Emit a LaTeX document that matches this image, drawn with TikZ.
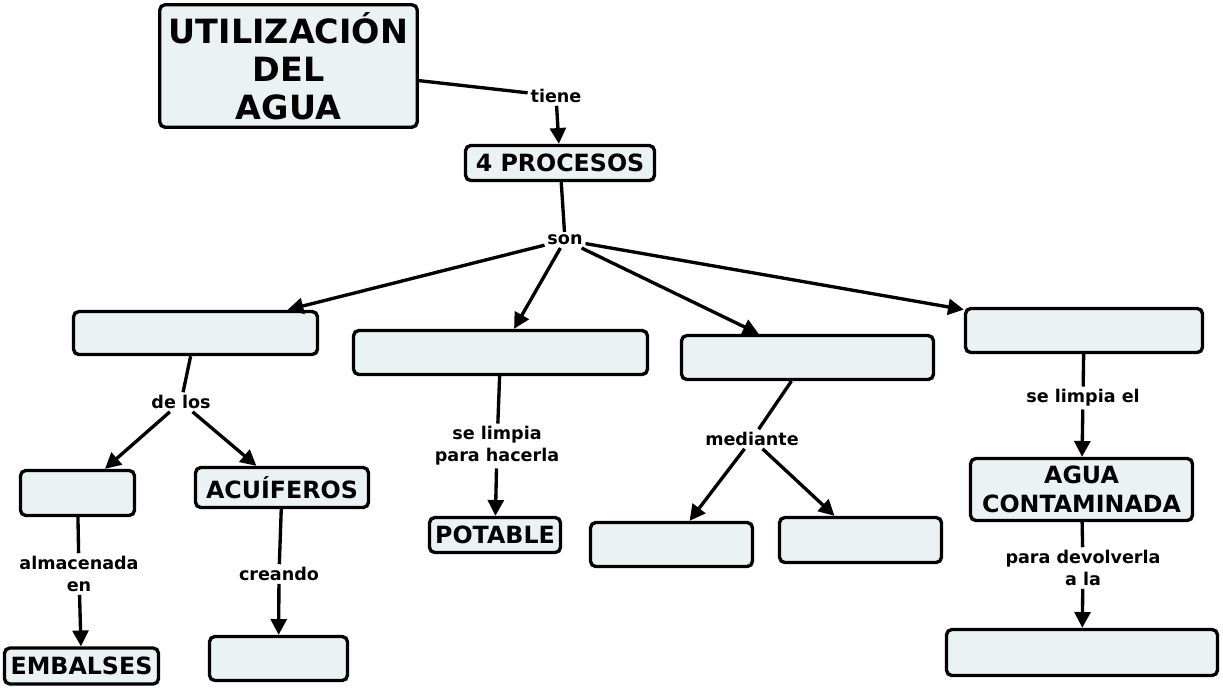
\documentclass[tikz,border=0pt]{standalone}
\usepackage{fontspec}
\setmainfont{DejaVu Sans}
\usepackage{xcolor}
\definecolor{cfill}{HTML}{EBF2F4}
\usetikzlibrary{arrows.meta}

\begin{document}
\begin{tikzpicture}[
  x=0.02cm, y=-0.02cm,
  concept/.style={rectangle,rounded corners=3pt,draw=black,line width=1.9pt,fill=cfill,align=center,inner sep=2pt,font=\bfseries\fontsize{13.5}{16.5}\selectfont},
  title/.style={concept,font=\bfseries\fontsize{19}{21.5}\selectfont},
  lbl/.style={align=center,inner sep=1.5pt,font=\bfseries\fontsize{10}{12.5}\selectfont},
  conn/.style={draw=black,line width=1.9pt},
  arr/.style={conn,-{Triangle[length=9pt,width=9pt]}}
]
\useasboundingbox (0,0) rectangle (1223,687);

% concepts
\node[title,minimum width=5.15cm,minimum height=2.45cm] (title) at (288.5,66) {UTILIZACIÓN\\DEL\\AGUA};
\node[concept,minimum width=3.78cm,minimum height=0.7cm] (procesos) at (560,163) {4 PROCESOS};
\node[concept,minimum width=4.88cm,minimum height=0.86cm] (procA) at (195.5,333) {};
\node[concept,minimum width=5.88cm,minimum height=0.88cm] (procB) at (500.5,352.5) {};
\node[concept,minimum width=5.04cm,minimum height=0.88cm] (procC) at (807.5,357.5) {};
\node[concept,minimum width=4.74cm,minimum height=0.88cm] (procD) at (1084,330.5) {};
\node[concept,minimum width=2.28cm,minimum height=0.9cm] (rios) at (77.5,493) {};
\node[concept,minimum width=3.46cm,minimum height=0.8cm] (acuiferos) at (282,487.5) {ACUÍFEROS};
\node[concept,minimum width=3.08cm,minimum height=0.72cm] (embalses) at (81.5,666) {EMBALSES};
\node[concept,minimum width=2.76cm,minimum height=0.88cm] (pozos) at (278.5,658.5) {};
\node[concept,minimum width=2.62cm,minimum height=0.7cm] (potable) at (495,535) {POTABLE};
\node[concept,minimum width=3.24cm,minimum height=0.88cm] (medioA) at (671.5,544.5) {};
\node[concept,minimum width=3.24cm,minimum height=0.9cm] (medioB) at (860.5,540) {};
\node[concept,minimum width=4.44cm,minimum height=1.24cm] (contaminada) at (1081.5,489.5) {AGUA\\CONTAMINADA};
\node[concept,minimum width=5.42cm,minimum height=0.92cm] (naturaleza) at (1082,652.5) {};

% linking words
\node[lbl] (tiene) at (556,96) {tiene};
\node[lbl] (son) at (565,240) {son};
\node[lbl] (delos) at (181,402) {de los};
\node[lbl] (almacenada) at (79,574) {almacenada\\en};
\node[lbl] (creando) at (279,574) {creando};
\node[lbl] (hacerla) at (497,446) {se limpia\\para hacerla};
\node[lbl] (mediante) at (752,439) {mediante};
\node[lbl] (limpiael) at (1083,398) {se limpia el};
\node[lbl] (devolver) at (1083,568) {para devolverla\\a la};

% connectors
\draw[conn] (title) -- (tiene);
\draw[arr] (tiene) -- (procesos);
\draw[conn] (procesos) -- (son);
\draw[arr] (son) -- (procA);
\draw[arr] (son) -- (procB);
\draw[arr] (son) -- (procC);
\draw[arr] (son) -- (procD);
\draw[conn] (procA) -- (delos);
\draw[arr] (delos) -- (rios);
\draw[arr] (delos) -- (acuiferos);
\draw[conn] (rios) -- (almacenada);
\draw[arr] (almacenada) -- (embalses);
\draw[conn] (acuiferos) -- (creando);
\draw[arr] (creando) -- (pozos);
\draw[conn] (procB) -- (hacerla);
\draw[arr] (hacerla) -- (potable);
\draw[conn] (procC) -- (mediante);
\draw[arr] (mediante) -- (medioA);
\draw[arr] (mediante) -- (medioB);
\draw[conn] (procD) -- (limpiael);
\draw[arr] (limpiael) -- (contaminada);
\draw[conn] (contaminada) -- (devolver);
\draw[arr] (devolver) -- (naturaleza);
\end{tikzpicture}
\end{document}
